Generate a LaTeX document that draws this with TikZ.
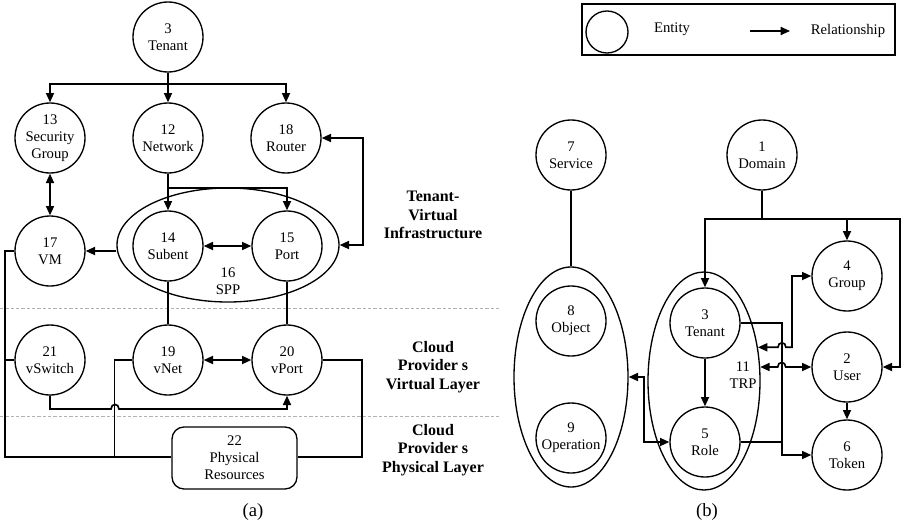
\documentclass[tikz,border=0pt]{standalone}
\usepackage{fontspec}
\setmainfont{Liberation Serif}
\usetikzlibrary{arrows.meta,shapes.geometric}
\begin{document}
\begin{tikzpicture}[x=0.75pt,y=-0.75pt,
  tip/.tip={Triangle[length=7pt,width=6pt]},
  ent/.style={circle,draw,line width=1pt,minimum size=52.5pt,inner sep=0pt,align=center,
              font=\fontsize{11}{12.75}\selectfont},
  grp/.style={ellipse,draw,line width=1pt,inner sep=0pt},
  wire/.style={line width=1.25pt},
  rel/.style={wire,-tip},
  rel2/.style={wire,tip-tip},
  txt/.style={align=center,font=\fontsize{11}{12.75}\selectfont},
  layer/.style={align=center,font=\fontsize{12}{14}\selectfont\bfseries},
  sep/.style={gray!60,line width=0.6pt,dash pattern=on 2.5pt off 1.5pt},
  subcap/.style={font=\fontsize{14}{16}\selectfont}
]
\useasboundingbox (0,0) rectangle (902,525);

% ---------------- (a) tenant-virtual / provider layers ----------------
\node[ent] (t3a)  at (168,37)  {3\\Tenant};
\node[ent] (sg13) at (50,138)  {13\\Security\\Group};
\node[ent] (net12) at (168,138) {12\\Network};
\node[ent] (rt18) at (286,138) {18\\Router};
\node[grp,minimum width=166.5pt,minimum height=85.5pt] (spp) at (228,245) {};
\node[txt] (spplbl) at (228,281) {16\\SPP};
\node[ent] (vm17)  at (50,251)  {17\\VM};
\node[ent] (sub14) at (168,246) {14\\Subent};
\node[ent] (port15) at (287,246) {15\\Port};
\node[ent] (vs21) at (50,360)  {21\\vSwitch};
\node[ent] (vn19) at (168,360) {19\\vNet};
\node[ent] (vp20) at (287,360) {20\\vPort};
\node[draw,line width=1pt,rounded corners=9pt,minimum width=93.75pt,minimum height=46.5pt,
      inner sep=0pt,txt] (phy22) at (234.5,458) {22\\Physical\\Resources};

\coordinate (lbus) at (5,457);

% layer separators
\draw[sep] (0,308) -- (500,308);
\draw[sep] (0,416) -- (500,416);

% layer labels
\node[layer] (lay1) at (433,215) {Tenant-\\Virtual\\Infrastructure};
\node[layer] (lay2) at (433,367) {Cloud\\Provider s\\Virtual Layer};
\node[layer] (lay3) at (433,450) {Cloud\\Provider s\\Physical Layer};

% relationships
\draw[rel] (t3a.south) -- (net12.north);
\draw[rel] (t3a.south) -- ++(0,11) -| (sg13.north);
\draw[rel] (t3a.south) -- ++(0,11) -| (rt18.north);
\draw[rel] (net12.south) -- (sub14.north);
\draw[rel] (net12.south) -- ++(0,14) -| (port15.north);
\draw[rel2] (sg13.south) -- (vm17.north);
\draw[rel2] (sub14.east) -- (port15.west);
\draw[rel] (spp.west |- vm17.east) -- (vm17.east);
\draw[rel2] (rt18.east) -- ++(41,0) |- (spp.east);
\draw[wire] (sub14.south) -- (vn19.north);
\draw[wire] (port15.south) -- (vp20.north);
\draw[rel2] (vn19.east) -- (vp20.west);
\draw[rel] (vs21.south) |- (111,409) .. controls (111,403) and (119,403) .. (119,409) -| (vp20.south);

% links to the physical resources
\draw[wire] (vm17.west) -| (lbus) -- (phy22.west |- lbus);
\draw[wire] (vs21.west) -- (vs21.west -| lbus);
\draw[wire] (vn19.west) -- ++(-18,0) |- (phy22.west |- lbus);
\draw[wire] (vp20.east) -- ++(39,0) |- (phy22.east |- lbus);

\node[subcap] (capa) at (253,512) {(a)};

% ---------------- legend ----------------
\node[draw,line width=0.8pt,minimum width=234.75pt,minimum height=38.25pt,inner sep=0pt] (legend) at (738.5,29.5) {};
\node[circle,draw,line width=1pt,minimum size=31.5pt,inner sep=0pt] (legent) at (607,32) {};
\node[txt] (legtxt1) at (672,29) {Entity};
\coordinate (legA) at (750,31);
\coordinate (legB) at (790,31);
\draw[rel] (legA) -- (legB);
\node[txt] (legtxt2) at (848,31) {Relationship};

% ---------------- (b) identity model ----------------
\node[ent] (svc7) at (571,155) {7\\Service};
\node[grp,minimum width=85.5pt,minimum height=165pt] (oe) at (571,377) {};
\node[ent] (ob8) at (571,321) {8\\Object};
\node[ent] (op9) at (571,438) {9\\Operation};
\node[ent] (dom1) at (762,155) {1\\Domain};
\node[ent] (grp4) at (847,276) {4\\Group};
\node[grp,minimum width=84pt,minimum height=163.5pt] (trp) at (704,381) {};
\node[ent] (t3b) at (705,323) {3\\Tenant};
\node[ent] (role5) at (705,442) {5\\Role};
\node[txt] (trplbl) at (743,375) {11\\TRP};
\node[ent] (usr2) at (847,367) {2\\User};
\node[ent] (tok6) at (847,455) {6\\Token};

\draw[wire] (svc7.south) -- (oe.north);
\draw[rel] (dom1.south) -- ++(0,28) -| (t3b.north);
\draw[rel] (dom1.south) -- ++(0,28) -| (grp4.north);
\draw[rel] (dom1.south) -- ++(0,28) -- ++(138,0) |- (usr2.east);
\draw[rel] (t3b.south) -- (role5.north);
\draw[rel] (usr2.south) -- (tok6.north);
\draw[rel] (t3b.east) -- ++(41,0) |- (tok6.west);
\draw[wire] (role5.east) -- ++(41,0);
\draw[rel2] (trp.32) -- ++(20,0) .. controls +(0,-6) and +(0,-6) .. ++(8,0) -- ++(6,0) |- (grp4.west);
\draw[rel2] (trp.14) -- ++(17.5,0) .. controls +(0,-6) and +(0,-6) .. ++(8,0) -- (usr2.west);
\draw[rel2] (oe.east) -- ++(15,0) |- (role5.west);

\node[subcap] (capb) at (707,512) {(b)};
\end{tikzpicture}
\end{document}
